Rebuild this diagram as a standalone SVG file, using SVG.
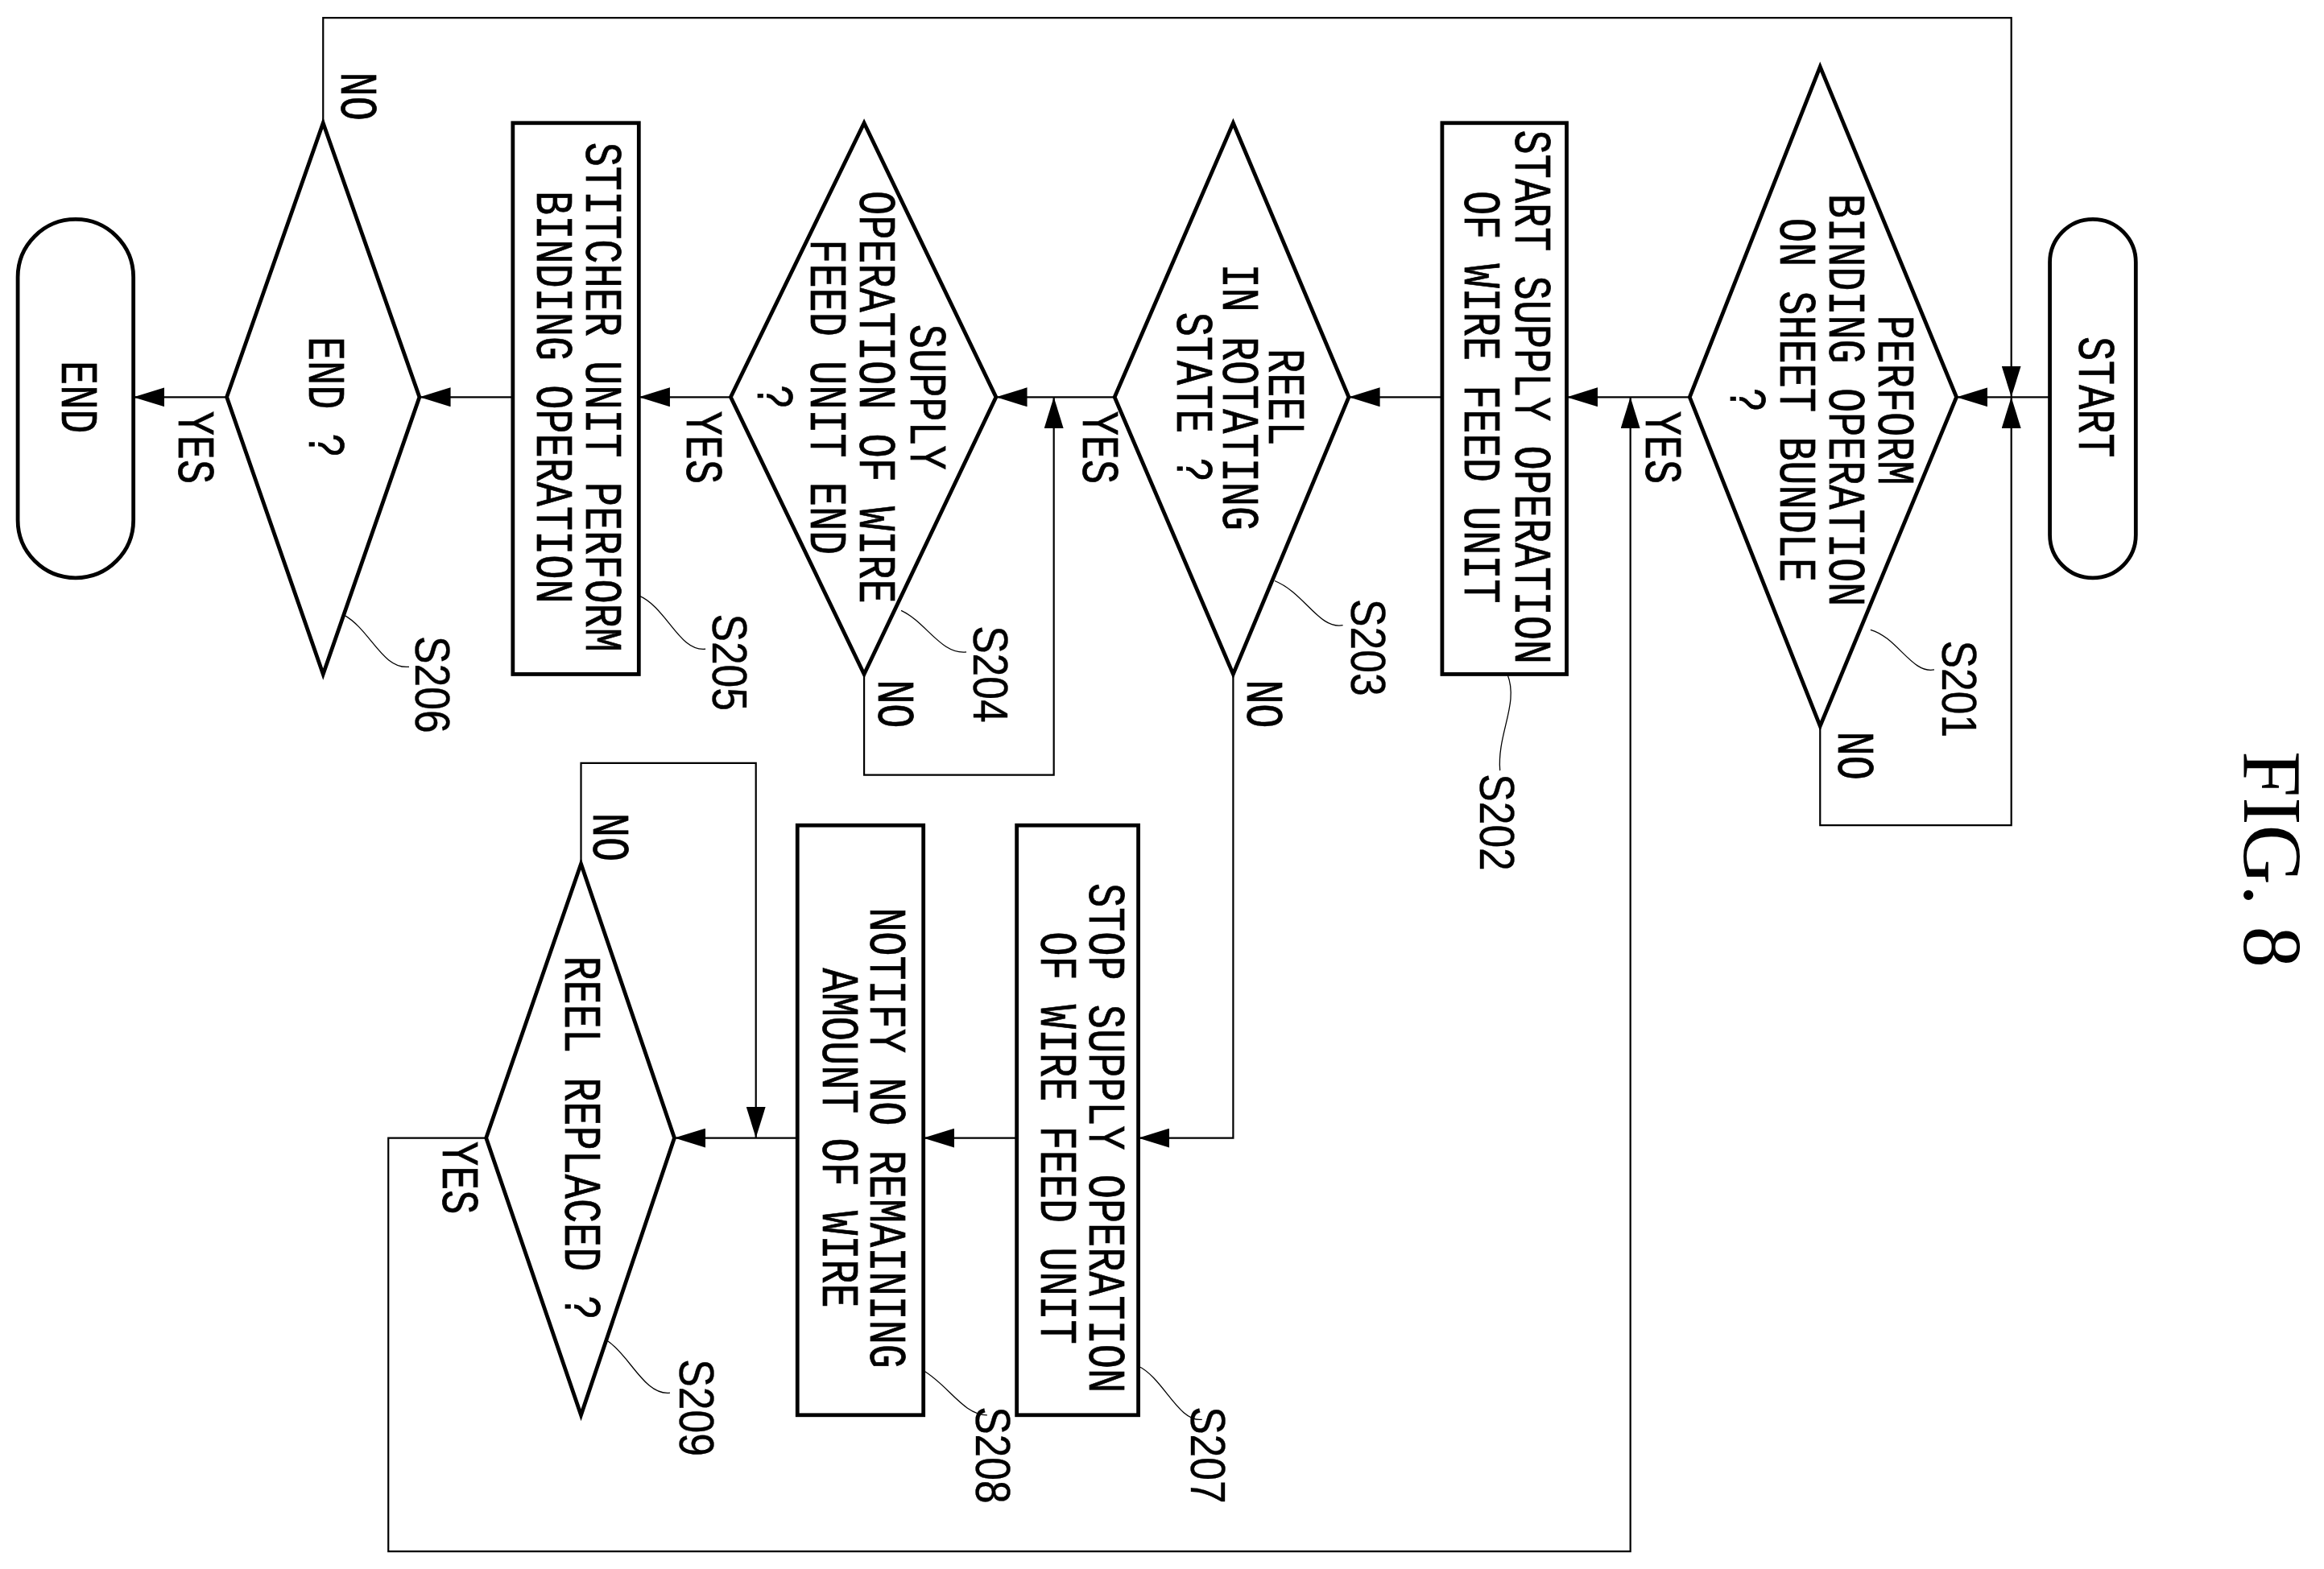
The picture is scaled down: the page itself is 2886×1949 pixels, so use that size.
<svg xmlns="http://www.w3.org/2000/svg" width="2886" height="1949" viewBox="0 0 2886 1949">
<defs>
<marker id="ah" viewBox="0 0 21 13" refX="21" refY="6.5" markerWidth="21" markerHeight="13" markerUnits="userSpaceOnUse" orient="auto"><path d="M0,0 L21,6.5 L0,13 z" fill="#000"/></marker>
<style>
.sh{fill:#fff;stroke:#000;stroke-width:2.6}
.cn{fill:none;stroke:#000;stroke-width:1.2}
.ld{fill:none;stroke:#000;stroke-width:0.7}
text{font-family:"Liberation Mono","DejaVu Sans Mono",monospace;font-size:35px;fill:#000;stroke:#000;stroke-width:0.4;text-anchor:middle}
.sl{font-family:"Liberation Sans",Arial,sans-serif;font-size:33px;stroke-width:0.2}
.fig{font-family:"Liberation Serif","Times New Roman",serif;font-size:56px;stroke-width:0}
</style>
</defs>
<rect width="2886" height="1949" fill="#fff"/>
<g transform="scale(1.8406)">
<g id="connectors">
<path class="cn" d="M1383,268 H1320" marker-end="url(#ah)"/>
<path class="cn" d="M218,83 V12 H1357 V268" marker-end="url(#ah)"/>
<path class="cn" d="M1228,490 V557 H1357 V268" marker-end="url(#ah)"/>
<path class="cn" d="M1140,268 H1057" marker-end="url(#ah)"/>
<path class="cn" d="M328,768 H262 V1047 H1100 V268" marker-end="url(#ah)"/>
<path class="cn" d="M973,268 H910" marker-end="url(#ah)"/>
<path class="cn" d="M752,268 H672" marker-end="url(#ah)"/>
<path class="cn" d="M583,455 V523 H711 V268" marker-end="url(#ah)"/>
<path class="cn" d="M493,268 H431" marker-end="url(#ah)"/>
<path class="cn" d="M346,268 H283" marker-end="url(#ah)"/>
<path class="cn" d="M153,268 H90" marker-end="url(#ah)"/>
<path class="cn" d="M832,455 V768 H768" marker-end="url(#ah)"/>
<path class="cn" d="M686,768 H623" marker-end="url(#ah)"/>
<path class="cn" d="M538,768 H455" marker-end="url(#ah)"/>
<path class="cn" d="M392,583 V515 H510 V768" marker-end="url(#ah)"/>
</g>
<g id="start"><rect class="sh" x="1383" y="148" width="58" height="242" rx="29"/><text transform="translate(1412,268) rotate(90) scale(0.78,1)" dominant-baseline="central">START</text></g>
<g id="S201"><polygon class="sh" points="1228,45 1320,268 1228,490 1140,268"/>
<text transform="translate(1227,270) rotate(90) scale(0.78,1)" dominant-baseline="central"><tspan x="0" y="-50">PERFORM</tspan><tspan x="0" y="-17">BINDING OPERATION</tspan><tspan x="0" y="16">ON SHEET BUNDLE</tspan><tspan x="0" y="50">?</tspan></text></g>
<g id="S202"><rect class="sh" x="973" y="83" width="84" height="372"/>
<text transform="translate(1015,268) rotate(90) scale(0.78,1)" dominant-baseline="central"><tspan x="0" y="-17">START SUPPLY OPERATION</tspan><tspan x="0" y="17">OF WIRE FEED UNIT</tspan></text></g>
<g id="S203"><polygon class="sh" points="832,83 910,268 832,455 752,268"/>
<text transform="translate(835,268) rotate(90) scale(0.78,1)" dominant-baseline="central"><tspan x="0" y="-31">REEL</tspan><tspan x="0" y="0">IN ROTATING</tspan><tspan x="0" y="31">STATE ?</tspan></text></g>
<g id="S204"><polygon class="sh" points="583,83 672,268 583,455 493,268"/>
<text transform="translate(573,268) rotate(90) scale(0.78,1)" dominant-baseline="central"><tspan x="0" y="-51">SUPPLY</tspan><tspan x="0" y="-17">OPERATION OF WIRE</tspan><tspan x="0" y="16">FEED UNIT END</tspan><tspan x="0" y="52">?</tspan></text></g>
<g id="S205"><rect class="sh" x="346" y="83" width="85" height="372"/>
<text transform="translate(389,268) rotate(90) scale(0.78,1)" dominant-baseline="central"><tspan x="0" y="-16">STITCHER UNIT PERFORM</tspan><tspan x="0" y="17">BINDING OPERATION</tspan></text></g>
<g id="S206"><polygon class="sh" points="218,83 283,268 218,455 153,268"/>
<text transform="translate(218,268) rotate(90) scale(0.78,1)" dominant-baseline="central">END ?</text></g>
<g id="end"><rect class="sh" x="12" y="148" width="78" height="242" rx="39"/><text transform="translate(51,268) rotate(90) scale(0.78,1)" dominant-baseline="central">END</text></g>
<g id="S207"><rect class="sh" x="686" y="557" width="82" height="398"/>
<text transform="translate(728,768) rotate(90) scale(0.78,1)" dominant-baseline="central"><tspan x="0" y="-17">STOP SUPPLY OPERATION</tspan><tspan x="0" y="16">OF WIRE FEED UNIT</tspan></text></g>
<g id="S208"><rect class="sh" x="538" y="557" width="85" height="398"/>
<text transform="translate(581,768) rotate(90) scale(0.78,1)" dominant-baseline="central"><tspan x="0" y="-16">NOTIFY NO REMAINING</tspan><tspan x="0" y="16">AMOUNT OF WIRE</tspan></text></g>
<g id="S209"><polygon class="sh" points="392,583 455,768 392,955 328,768"/>
<text transform="translate(391,768) rotate(90) scale(0.78,1)" dominant-baseline="central">REEL REPLACED ?</text></g>
<g id="labels">
<text transform="translate(1120,302) rotate(90) scale(0.78,1)" dominant-baseline="central">YES</text>
<text transform="translate(1250,510) rotate(90) scale(0.78,1)" dominant-baseline="central">NO</text>
<text transform="translate(740,302) rotate(90) scale(0.78,1)" dominant-baseline="central">YES</text>
<text transform="translate(851,475) rotate(90) scale(0.78,1)" dominant-baseline="central">NO</text>
<text transform="translate(473,302) rotate(90) scale(0.78,1)" dominant-baseline="central">YES</text>
<text transform="translate(602,475) rotate(90) scale(0.78,1)" dominant-baseline="central">NO</text>
<text transform="translate(130,302) rotate(90) scale(0.78,1)" dominant-baseline="central">YES</text>
<text transform="translate(240,65) rotate(90) scale(0.78,1)" dominant-baseline="central">NO</text>
<text transform="translate(410,565) rotate(90) scale(0.78,1)" dominant-baseline="central">NO</text>
<text transform="translate(308,795) rotate(90) scale(0.78,1)" dominant-baseline="central">YES</text>
</g>
<g id="steplabels">
<path class="ld" d="M1262,425 C1280,430 1290,455 1305,452"/>
<text class="sl" transform="translate(1322,465) rotate(90) scale(0.85,1)" dominant-baseline="central">S201</text>
<path class="ld" d="M1017,455 C1025,475 1010,495 1012,520"/>
<text class="sl" transform="translate(1010,555) rotate(90) scale(0.85,1)" dominant-baseline="central">S202</text>
<path class="ld" d="M860,392 C880,400 890,425 906,422"/>
<text class="sl" transform="translate(923,437) rotate(90) scale(0.85,1)" dominant-baseline="central">S203</text>
<path class="ld" d="M608,412 C625,420 635,442 652,440"/>
<text class="sl" transform="translate(668,455) rotate(90) scale(0.85,1)" dominant-baseline="central">S204</text>
<path class="ld" d="M431,402 C450,410 458,440 476,438"/>
<text class="sl" transform="translate(492,447) rotate(90) scale(0.85,1)" dominant-baseline="central">S205</text>
<path class="ld" d="M232,415 C250,425 258,452 276,450"/>
<text class="sl" transform="translate(292,462) rotate(90) scale(0.85,1)" dominant-baseline="central">S206</text>
<path class="ld" d="M768,922 C785,930 795,960 811,958"/>
<text class="sl" transform="translate(815,982) rotate(90) scale(0.85,1)" dominant-baseline="central">S207</text>
<path class="ld" d="M623,925 C640,935 650,955 666,955"/>
<text class="sl" transform="translate(670,982) rotate(90) scale(0.85,1)" dominant-baseline="central">S208</text>
<path class="ld" d="M410,905 C425,915 435,942 452,940"/>
<text class="sl" transform="translate(470,950) rotate(90) scale(0.85,1)" dominant-baseline="central">S209</text>
</g>
<text class="fig" transform="translate(1533,580) rotate(90)" dominant-baseline="central">FIG. 8</text>
</g>
</svg>
